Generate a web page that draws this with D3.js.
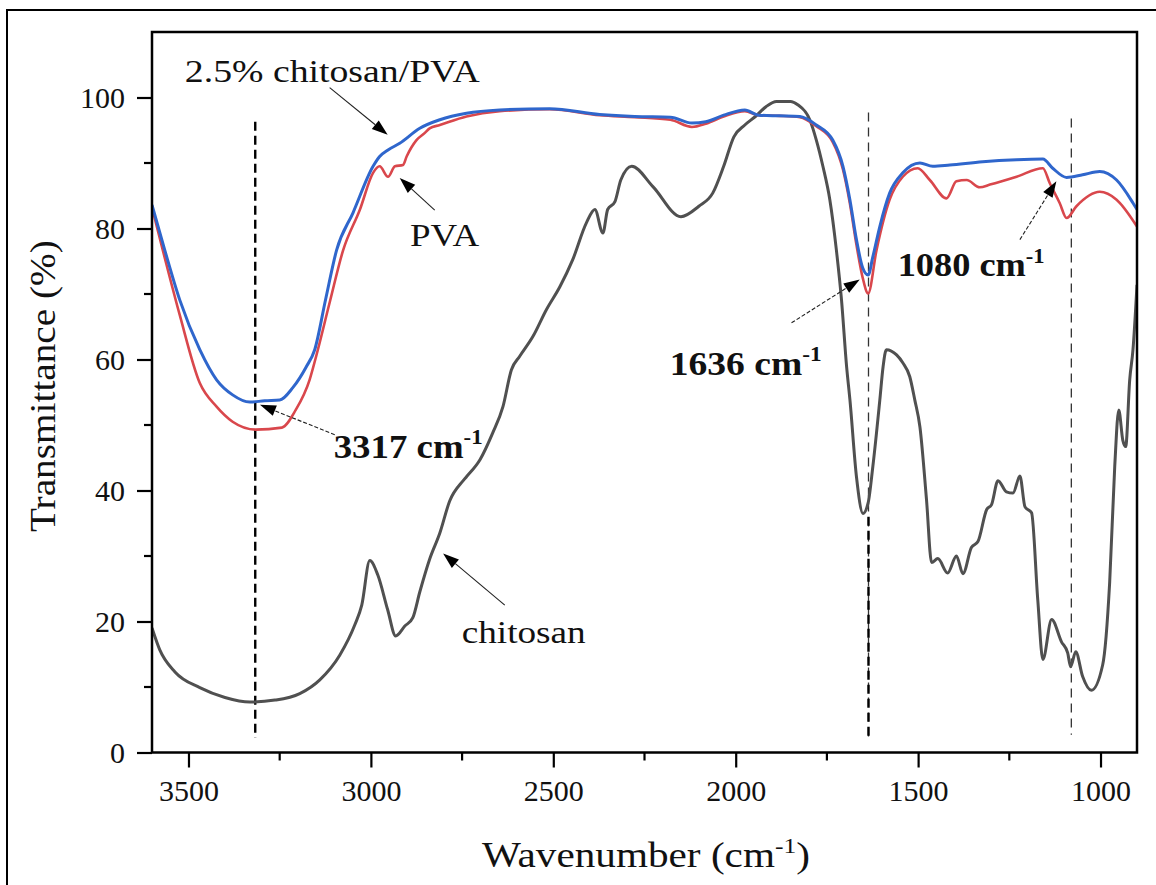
<!DOCTYPE html>
<html>
<head>
<meta charset="utf-8">
<script src="https://cdn.jsdelivr.net/npm/d3@7"></script>
<style>
  body { margin: 0; background: #fff; }
  svg { display: block; }
  text { font-family: "Liberation Serif", "Times New Roman", serif; fill: #111; }
</style>
</head>
<body>
<svg id="chart" width="1156" height="885"></svg>
<script>
// ---- axis ticks ----
const xTicks = [3500, 3000, 2500, 2000, 1500, 1000];
const xMinorTicks = [3250, 2750, 2250, 1750, 1250];
const yTicks = [0, 20, 40, 60, 80, 100];
const yMinorTicks = [10, 30, 50, 70, 90];

// ---- FTIR spectra: [wavenumber (cm-1), transmittance (%)] ----
const chitosan = [
  [3600,19.0],[3579,15.7],[3537,12.3],[3469,9.9],[3400,8.4],[3332,7.7],[3263,8.0],[3195,9.0],
  [3140,11.1],[3085,14.9],[3044,19.5],[3025,22.5],[3003,29.3],[2981,27.1],[2954,21.8],[2932,17.8],
  [2907,19.3],[2885,20.6],[2866,24.5],[2839,29.5],[2811,33.5],[2784,38.4],[2747,41.5],[2738,42.1],
  [2701,44.7],[2666,48.8],[2638,52.8],[2615,58.4],[2592,60.5],[2556,63.5],[2519,67.6],[2482,71.1],
  [2447,75.2],[2409,80.9],[2386,82.9],[2364,79.3],[2351,82.9],[2331,84.1],[2315,87.4],[2285,89.5],
  [2227,86.4],[2150,81.8],[2101,83.4],[2063,85.4],[2033,89.5],[2005,94.0],[1975,95.8],[1946,97.1],
  [1917,98.6],[1888,99.4],[1850,99.4],[1830,98.9],[1797,96.6],[1779,93.5],[1761,89.5],[1742,84.4],
  [1724,76.7],[1710,69.1],[1696,58.9],[1687,53.9],[1669,42.1],[1651,36.5],[1637,38.1],[1624,43.7],
  [1605,53.8],[1596,58.9],[1587,61.5],[1559,60.7],[1542,59.5],[1523,57.4],[1509,53.8],[1495,49.7],
  [1477,38.6],[1463,29.0],[1446,29.6],[1419,27.4],[1395,30.0],[1377,27.3],[1354,31.3],[1336,32.2],
  [1312,37.1],[1299,37.8],[1281,41.5],[1258,39.8],[1240,39.6],[1221,42.2],[1207,37.5],[1189,36.6],
  [1172,23.3],[1158,14.2],[1134,20.3],[1107,16.9],[1090,15.2],[1082,13.1],[1068,15.4],[1049,11.6],
  [1025,9.5],[994,13.4],[975,25.9],[961,43.7],[950,52.3],[939,47.7],[931,46.7],[920,56.9],
  [911,61.5],[900,71.4]
];

const pva = [
  [3600,83.2],[3565,75.5],[3524,66.8],[3469,56.4],[3423,52.8],[3379,50.5],[3316,49.3],[3244,49.6],
  [3206,52.3],[3168,56.9],[3150,60.5],[3113,68.7],[3076,76.7],[3030,82.9],[2994,88.5],[2976,89.5],
  [2953,87.9],[2934,89.5],[2912,89.7],[2902,91.0],[2875,93.5],[2852,94.6],[2839,95.3],[2811,95.8],
  [2738,97.1],[2647,97.9],[2510,98.2],[2373,97.3],[2277,97.0],[2179,96.6],[2120,95.5],[2082,96.0],
  [2033,97.1],[1975,97.9],[1937,97.3],[1880,97.2],[1824,97.0],[1779,95.6],[1734,93.2],[1706,89.0],
  [1687,83.8],[1669,77.5],[1652,72.5],[1637,70.1],[1614,76.7],[1578,84.4],[1542,87.9],[1501,89.2],
  [1468,87.4],[1422,84.6],[1395,87.2],[1367,87.4],[1331,86.3],[1303,86.7],[1230,87.9],[1158,89.2],
  [1139,86.9],[1112,83.9],[1093,81.6],[1066,83.4],[1002,85.6],[956,84.4],[900,80.3]
];

const chitosanPva = [
  [3600,83.6],[3565,76.7],[3524,69.1],[3469,61.5],[3423,56.9],[3379,54.6],[3332,53.5],[3291,53.7],
  [3250,53.8],[3214,55.7],[3177,58.9],[3154,61.5],[3124,69.2],[3094,76.7],[3049,82.4],[2994,89.5],
  [2976,91.0],[2953,92.0],[2921,93.0],[2866,95.3],[2811,96.6],[2738,97.6],[2647,98.1],[2510,98.3],
  [2373,97.4],[2277,97.1],[2179,97.0],[2120,96.1],[2082,96.3],[2033,97.3],[1975,98.1],[1937,97.3],
  [1880,97.2],[1824,97.1],[1779,95.8],[1734,93.5],[1706,89.5],[1687,84.4],[1669,78.3],[1652,74.0],
  [1637,72.9],[1624,75.7],[1605,80.3],[1578,85.4],[1542,88.5],[1495,90.0],[1460,89.5],[1413,89.7],
  [1323,90.2],[1230,90.5],[1158,90.6],[1131,89.2],[1093,87.8],[1049,88.2],[1002,88.7],[956,87.4],
  [911,83.9],[900,82.9]
];

// ---- characteristic band markers (wavenumber, transmittance span) ----
const bandLines = [
  { wn: 3317, top: 96.3, bottom: 2.2, heavy: true },
  { wn: 1636, top: 97.7, bottom: 2.0, heavy: false },
  { wn: 1636, top: 36.0, bottom: 2.0, heavy: true },
  { wn: 1080, top: 96.8, bottom: 2.7, heavy: false }
];

// ---- annotation arrows: tail -> head, in data units ----
const arrows = [
  { from: [3113, 101.5], to: [2954, 94.3], dashed: false },
  { from: [2825, 82.8],  to: [2921, 87.7], dashed: false },
  { from: [3099, 48.5],  to: [3304, 53.1], dashed: true },
  { from: [2633, 22.5],  to: [2802, 30.4], dashed: false },
  { from: [1847, 65.6],  to: [1660, 72.2], dashed: true },
  { from: [1221, 78.3],  to: [1121, 87.2], dashed: true }
];

// ---- text labels: start position (data units) and drawn width ----
const labels = [
  { parts: [["2.5% chitosan/PVA"]], wn: 3510, t: 102.4, width: 295, size: 32, weight: "normal" },
  { parts: [["PVA"]], wn: 2893, t: 77.3, width: 70, size: 31, weight: "normal" },
  { parts: [["chitosan"]], wn: 2751, t: 16.7, width: 124, size: 32, weight: "normal" },
  { parts: [["3317 cm"], ["-1", "sup"]], wn: 3102, t: 45.0, width: 149, size: 34, weight: "bold" },
  { parts: [["1636 cm"], ["-1", "sup"]], wn: 2181, t: 57.7, width: 152, size: 34, weight: "bold" },
  { parts: [["1080 cm"], ["-1", "sup"]], wn: 1556, t: 72.7, width: 147, size: 34, weight: "bold" }
];

const W = 1156, H = 885;
const margin = { top: 32, right: 19, bottom: 132.5, left: 152 };
const svg = d3.select("#chart");

const x = d3.scaleLinear().domain([3600, 900]).range([margin.left, W - margin.right]);
const y = d3.scaleLinear().domain([0, 110]).range([H - margin.bottom, margin.top]);

// figure border (left and top edges fall inside the canvas)
svg.append("rect")
  .attr("x", 7).attr("y", 10).attr("width", 1300).attr("height", 1000)
  .attr("fill", "none").attr("stroke", "#000").attr("stroke-width", 2);

svg.append("clipPath").attr("id", "plot-clip")
  .append("rect")
  .attr("x", margin.left).attr("y", margin.top)
  .attr("width", W - margin.left - margin.right)
  .attr("height", H - margin.top - margin.bottom);

// ---- band marker lines ----
const bandG = svg.append("g");
bandLines.forEach(b => {
  bandG.append("line")
    .attr("x1", x(b.wn)).attr("x2", x(b.wn))
    .attr("y1", y(b.top)).attr("y2", y(b.bottom))
    .attr("stroke", b.heavy ? "#000" : "#333")
    .attr("stroke-width", b.heavy ? 2.4 : 1.3)
    .attr("stroke-dasharray", b.heavy ? "9,5" : "9,6");
});

// ---- spectra ----
const line = d3.line()
  .x(d => x(d[0]))
  .y(d => y(d[1]))
  .curve(d3.curveMonotoneX);

const curves = svg.append("g").attr("clip-path", "url(#plot-clip)");
[
  { data: chitosan, color: "#505050", width: 3 },
  { data: pva, color: "#d9474c", width: 2.6 },
  { data: chitosanPva, color: "#2f66cc", width: 3 }
].forEach(s => {
  curves.append("path")
    .datum(s.data)
    .attr("d", line)
    .attr("fill", "none")
    .attr("stroke", s.color)
    .attr("stroke-width", s.width)
    .attr("stroke-linejoin", "round");
});

// ---- axes ----
const xAxis = svg.append("g")
  .attr("transform", `translate(0,${y(0)})`)
  .call(d3.axisBottom(x).tickValues(xTicks).tickSize(15).tickPadding(12).tickSizeOuter(0)
    .tickFormat(d3.format("d")));
const yAxis = svg.append("g")
  .attr("transform", `translate(${x(3600)},0)`)
  .call(d3.axisLeft(y).tickValues(yTicks).tickSize(15).tickPadding(12).tickSizeOuter(0)
    .tickFormat(d3.format("d")));

[xAxis, yAxis].forEach(a => {
  a.select(".domain").remove();
  a.selectAll(".tick line").attr("stroke", "#000").attr("stroke-width", 2.2);
  a.selectAll(".tick text").attr("font-size", 30).attr("fill", "#111")
    .style("font-family", "'Liberation Serif', 'Times New Roman', serif");
});

// minor ticks
svg.append("g").selectAll("line").data(xMinorTicks).join("line")
  .attr("x1", d => x(d)).attr("x2", d => x(d))
  .attr("y1", y(0)).attr("y2", y(0) + 8)
  .attr("stroke", "#000").attr("stroke-width", 2.2);
svg.append("g").selectAll("line").data(yMinorTicks).join("line")
  .attr("x1", x(3600) - 8).attr("x2", x(3600))
  .attr("y1", d => y(d)).attr("y2", d => y(d))
  .attr("stroke", "#000").attr("stroke-width", 2.2);

// plot frame
svg.append("rect")
  .attr("x", x(3600)).attr("y", y(110))
  .attr("width", x(900) - x(3600)).attr("height", y(0) - y(110))
  .attr("fill", "none").attr("stroke", "#000").attr("stroke-width", 2.5);

// ---- arrows ----
const arrowG = svg.append("g");
arrows.forEach(a => {
  const x0 = x(a.from[0]), y0 = y(a.from[1]);
  const x1 = x(a.to[0]), y1 = y(a.to[1]);
  const ang = Math.atan2(y1 - y0, x1 - x0);
  const len = 16, half = 5.5;
  const bx = x1 - len * Math.cos(ang), by = y1 - len * Math.sin(ang);
  arrowG.append("line")
    .attr("x1", x0).attr("y1", y0).attr("x2", bx).attr("y2", by)
    .attr("stroke", "#222").attr("stroke-width", 1.1)
    .attr("stroke-dasharray", a.dashed ? "4,2" : null);
  const px = -Math.sin(ang) * half, py = Math.cos(ang) * half;
  arrowG.append("path")
    .attr("d", `M${x1},${y1}L${bx + px},${by + py}L${bx - px},${by - py}Z`)
    .attr("fill", "#000");
});

// ---- text helper: draw parts, then stretch horizontally to the wanted width ----
function drawText(parent, parts, size, weight, width) {
  const t = parent.append("text")
    .attr("font-size", size)
    .attr("font-weight", weight);
  parts.forEach((p, i) => {
    const ts = t.append("tspan").text(p[0]);
    if (p[1] === "sup") {
      ts.attr("font-size", size * 0.62).attr("dy", -size * 0.4);
    } else if (i > 0 && parts[i - 1][1] === "sup") {
      ts.attr("dy", size * 0.4);
    }
  });
  const w = t.node().getBBox().width;
  t.attr("transform", `scale(${width / w},1)`);
  return t;
}

labels.forEach(l => {
  const g = svg.append("g").attr("transform", `translate(${x(l.wn)},${y(l.t)})`);
  drawText(g, l.parts, l.size, l.weight, l.width);
});

// axis titles
const xt = svg.append("g").attr("transform", "translate(482,866.5)");
drawText(xt, [["Wavenumber (cm"], ["-1", "sup"], [")"]], 35, "normal", 328);

const yt = svg.append("g").attr("transform", "translate(55,532) rotate(-90)");
drawText(yt, [["Transmittance (%)"]], 35, "normal", 292);
</script>
</body>
</html>
